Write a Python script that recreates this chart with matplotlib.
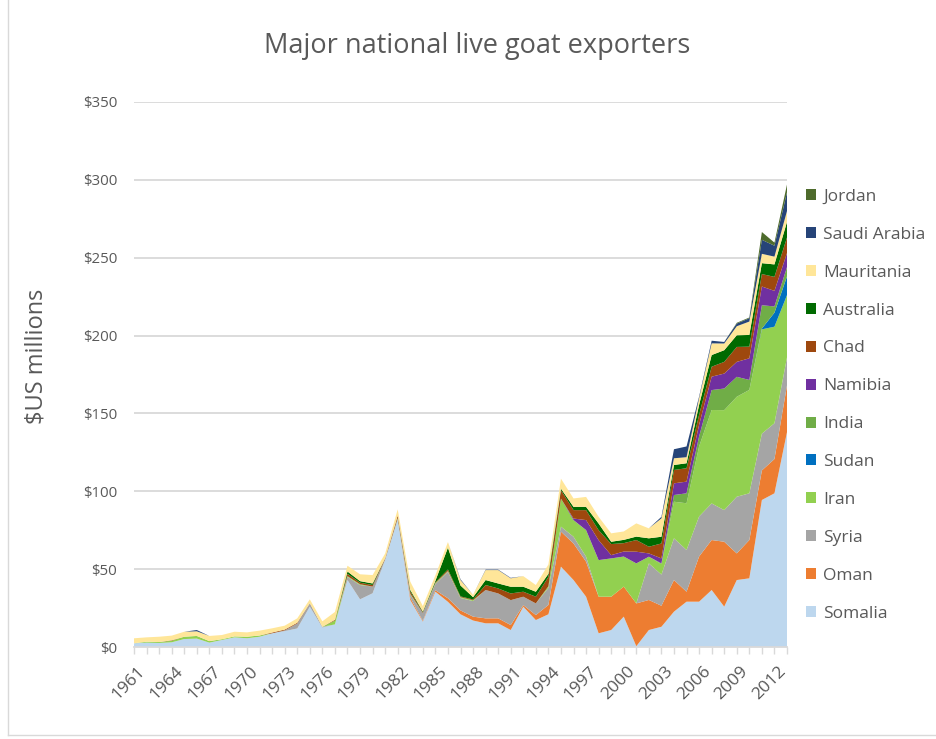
import matplotlib.pyplot as plt
import matplotlib.transforms as mtransforms
from matplotlib.patches import Patch

plt.rcParams['font.family'] = ['Open Sans', 'DejaVu Sans']

years = list(range(1961, 2014))

# values in $US millions, one per year 1961..2013
somalia = [2.4, 2.8, 2.6, 3.0, 5.1, 5.4, 2.8, 4.5, 6.2, 5.6,
           6.6, 8.8, 10.2, 11.9, 25.9, 12.5, 14.5, 43, 30.6, 34.5,
           56, 81.6, 30.2, 16.3, 35.5, 29, 21, 17, 15.2, 15.2,
           10.9, 25.9, 17.3, 21, 51.6, 43, 32.3, 8.8, 10.9, 19.5,
           0.5, 10.9, 13, 22.7, 29.1, 29.1, 36.6, 25.9, 43, 44.1,
           94.4, 98.7, 138]
oman = [0, 0, 0, 0, 0, 0, 0, 0, 0, 0,
        0, 0, 0, 0, 0, 0, 0, 0, 0, 0,
        0, 0, 1.5, 0.5, 1, 2.3, 2.5, 2.5, 3.2, 3.2,
        3.2, 1, 3.2, 6, 22.5, 23.5, 22.5, 23.5, 21.4, 19.3,
        27.5, 19.3, 13.5, 20.3, 6.4, 29, 32.1, 41.7, 17.1, 24.6,
        19, 22, 30]
syria = [0, 0, 0, 0, 0, 0, 0, 0, 0, 0,
         0, 0, 0.5, 3.2, 2, 0.5, 0, 2, 9.2, 4.3,
         0.5, 0.8, 2, 5, 4, 17, 8, 10, 18.2, 16,
         16, 5.4, 7.5, 11, 3.2, 4.3, 3.2, 0, 0, 0,
         0, 23.5, 20, 26.8, 26.8, 25.7, 23.5, 20.3, 36.4, 30,
         23.6, 23, 18]
iran = [0, 0.6, 0.6, 1.0, 1.5, 1.7, 1.0, 0.5, 0.6, 1.0,
        0.8, 0, 0, 0, 0, 0, 2.5, 0.5, 0.5, 0,
        0, 0.5, 0.5, 0, 0.5, 0.5, 0.5, 0.5, 0, 0,
        0, 0, 0, 1, 18, 10.7, 17.1, 23.5, 24.6, 19.3,
        25.7, 4.3, 6.7, 23.5, 30, 45, 60, 64.2, 64.2, 66.4,
        67, 62, 40]
sudan = [0, 0, 0, 0, 0, 0, 0, 0, 0, 0,
         0, 0, 0, 0, 0, 0, 0, 0, 0, 0,
         0, 0, 0, 0, 0, 0, 0, 0, 0, 0,
         0, 0, 0, 0, 0, 0, 0, 0, 0, 0,
         0, 0, 0, 0, 0, 0, 0, 0, 0, 0,
         0.5, 9, 12]
india = [0, 0, 0, 0, 0, 0, 0, 0, 0, 0,
         0, 0, 0, 0, 0, 0, 0, 0, 0, 0,
         0, 0, 0, 0, 0, 0, 0, 0, 0, 0,
         0, 0, 0, 0, 0, 0, 0, 0, 0, 0,
         0, 0, 0.5, 4.3, 6.4, 6.4, 12.8, 13.9, 12.8, 6.4,
         15, 4, 6]
namibia = [0, 0, 0, 0, 0, 0, 0, 0, 0, 0,
           0, 0, 0, 0, 0, 0, 0, 0, 0, 0,
           0, 0, 0, 0, 0, 0, 0, 0, 0, 0,
           0, 0, 0, 0, 0, 1, 6.4, 12.8, 2.1, 3.2,
           7.5, 2.1, 3.2, 7.5, 7.5, 7.5, 8.6, 9.6, 9.6, 13.9,
           12, 10, 9]
chad = [0, 0, 0, 0.3, 0, 0, 0, 0, 0, 0,
        0, 0.5, 0.5, 0.5, 0.2, 0, 0.5, 1.5, 1, 1,
        0.5, 1.5, 1.5, 0.5, 0.5, 1, 0.5, 0.5, 3.2, 3.2,
        4.3, 3.2, 4.3, 6, 5.4, 5.4, 6.4, 6.4, 7.1, 5.4,
        7.5, 4.3, 9.6, 8.6, 8.6, 6.4, 6.4, 7.5, 9.6, 7.5,
        8, 9, 10]
australia = [0, 0, 0, 0, 0, 0, 0, 0, 0, 0,
             0, 0, 0, 0, 0, 0, 0, 1.5, 1, 1,
             0, 0, 1, 0.5, 1, 14, 7, 1.5, 3.2, 3.2,
             4.3, 3.2, 3.2, 2, 1, 2.1, 2.1, 4.3, 1.5, 2.1,
             2.2, 5.4, 4.3, 3.2, 3.2, 6.4, 7.5, 7.5, 7.5, 7.5,
             7, 8, 10]
mauritania = [3.2, 2.8, 3.4, 3.0, 3.2, 3.0, 3.3, 2.7, 3.0, 2.8,
              3.1, 2.7, 2.5, 2.8, 2.5, 3.5, 5, 3.7, 4.4, 5.4,
              3, 4, 5.3, 3.5, 3.5, 3.6, 3.5, 1.5, 6.4, 8.6,
              5.4, 6.8, 4.3, 6, 6.4, 5.4, 6.4, 4.3, 5.4, 5.4,
              8.5, 6.4, 11.8, 4.3, 3.9, 4.3, 7.5, 4.3, 5.8, 8.6,
              6, 5, 7]
saudi = [0, 0, 0, 0, 0, 0.8, 0, 0, 0, 0,
         0, 0, 0, 0, 0, 0, 0, 0, 0, 0,
         0, 0, 0, 0, 0, 0, 0.5, 0, 0.3, 0.3,
         0.3, 0, 0, 0, 0, 0, 0, 0, 0, 0,
         0, 0, 1, 5.8, 6.9, 1, 1.7, 1, 1.7, 2.1,
         9, 7, 12]
jordan = [0, 0, 0, 0, 0, 0, 0, 0, 0, 0,
          0, 0, 0, 0, 0, 0, 0, 0, 0, 0,
          0, 0, 0, 0, 0, 0, 0, 0, 0, 0,
          0, 0, 0, 0, 0, 0, 0, 0, 0, 0,
          0, 0, 0, 0, 0, 0, 0, 0, 0.5, 0.5,
          5, 2, 5]

names = ['Somalia', 'Oman', 'Syria', 'Iran', 'Sudan', 'India', 'Namibia',
         'Chad', 'Australia', 'Mauritania', 'Saudi Arabia', 'Jordan']
series = [somalia, oman, syria, iran, sudan, india, namibia,
          chad, australia, mauritania, saudi, jordan]
colors = ['#BDD7EE', '#ED7D31', '#A5A5A5', '#92D050', '#0070C0', '#70AD47',
          '#7030A0', '#9E480E', '#006A00', '#FFE699', '#264478', '#4E6B2C']

fig = plt.figure(figsize=(9.36, 7.39), dpi=100)
ax = fig.add_axes([134 / 936, 1 - 647 / 739, (787 - 134) / 936, (647 - 102) / 739])

ax.stackplot(years, *series, colors=colors, linewidth=0, zorder=2)

ax.set_xlim(1961, 2013)
ax.set_ylim(0, 350)
ax.set_yticks(range(0, 351, 50))
ax.set_yticklabels([f'${v}' for v in range(0, 351, 50)])
ax.yaxis.grid(True, color='#D9D9D9', lw=1.3, zorder=0)
ax.set_axisbelow(True)

ax.set_xticks(years[::3])
ax.set_xticklabels([str(y) for y in years[::3]], rotation=45, ha='right',
                   va='center', rotation_mode='anchor')
ax.set_xticks(years, minor=True)
ax.tick_params(axis='x', which='both', length=5, color='#D9D9D9', width=1,
               labelsize=12.5, labelcolor='#595959', pad=11)
ax.tick_params(axis='y', length=0, labelsize=10.8, labelcolor='#595959', pad=12)
shift = mtransforms.ScaledTranslation(9 / 100, 0, fig.dpi_scale_trans)
for lbl in ax.get_xticklabels():
    lbl.set_transform(lbl.get_transform() + shift)

for s in ['top', 'right', 'left']:
    ax.spines[s].set_visible(False)
ax.spines['bottom'].set_color('#D9D9D9')
ax.spines['bottom'].set_linewidth(1.3)
ax.spines['bottom'].set_zorder(3)

fig.text(37 / 936, 1 - 356 / 739, '$US millions', rotation=90, ha='center',
         va='center', fontsize=17, color='#595959')
fig.text(477 / 936, 1 - 46 / 739, 'Major national live goat exporters',
         ha='center', va='center', fontsize=19.5, color='#595959')

handles = [Patch(facecolor=c, edgecolor='none') for c in colors][::-1]
ax.legend(handles, names[::-1], loc='upper left', bbox_to_anchor=(799 / 936, 1 - 182 / 739),
          bbox_transform=fig.transFigure, frameon=False, fontsize=12.5,
          labelcolor='#595959', handlelength=0.6, handleheight=0.6,
          handletextpad=0.4, labelspacing=1.26, borderaxespad=0)

# chart area border
fig.add_artist(plt.Line2D([8 / 936, 8 / 936], [4 / 739, 1], color='#D9D9D9', lw=1,
                          transform=fig.transFigure))
fig.add_artist(plt.Line2D([8 / 936, 1], [4 / 739, 4 / 739], color='#D9D9D9', lw=1,
                          transform=fig.transFigure))

fig.savefig('out.png', dpi=100, facecolor='white')
